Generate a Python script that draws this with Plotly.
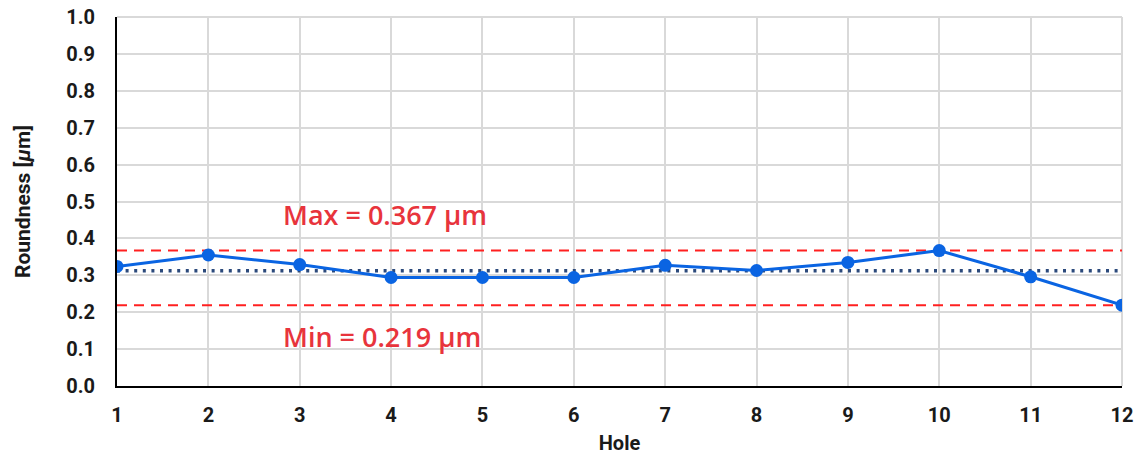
import plotly.graph_objects as go

holes = [1, 2, 3, 4, 5, 6, 7, 8, 9, 10, 11, 12]
roundness = [0.324, 0.355, 0.329, 0.294, 0.294, 0.294, 0.327, 0.313, 0.335, 0.367, 0.296, 0.219]
y_ticks = [0.0, 0.1, 0.2, 0.3, 0.4, 0.5, 0.6, 0.7, 0.8, 0.9, 1.0]

max_v = max(roundness)
min_v = min(roundness)
mean_v = sum(roundness) / len(roundness)
x_span = [holes[0], holes[-1]]

fig = go.Figure()
fig.add_trace(go.Scatter(x=x_span, y=[max_v, max_v], mode="lines",
                         line=dict(color="#ff2020", width=2, dash="10px,7px"),
                         hoverinfo="skip", showlegend=False))
fig.add_trace(go.Scatter(x=x_span, y=[min_v, min_v], mode="lines",
                         line=dict(color="#ff2020", width=2, dash="10px,7px"),
                         hoverinfo="skip", showlegend=False))
fig.add_trace(go.Scatter(x=x_span, y=[mean_v, mean_v], mode="lines",
                         line=dict(color="#2c4a7c", width=3.5, dash="3px,5.6px"),
                         hoverinfo="skip", showlegend=False))
fig.add_trace(go.Scatter(x=holes, y=roundness, mode="lines+markers",
                         line=dict(color="#0a64e2", width=3),
                         marker=dict(color="#0a64e2", size=13),
                         showlegend=False))

fig.add_annotation(x=2.79, y=0.466, xref="x", yref="y", xanchor="left", yanchor="middle",
                   text=f"Max = {max_v:.3f} µm", showarrow=False,
                   font=dict(family="Open Sans", size=27, color="#e8343c", weight=600))
fig.add_annotation(x=2.79, y=0.133, xref="x", yref="y", xanchor="left", yanchor="middle",
                   text=f"Min = {min_v:.3f} µm", showarrow=False,
                   font=dict(family="Open Sans", size=27, color="#e8343c", weight=600))

# grid lines at the plot edges (top and right)
fig.add_shape(type="line", xref="paper", yref="paper", x0=0, x1=1, y0=1, y1=1,
              line=dict(color="#d9d9d9", width=2), layer="below")
fig.add_shape(type="line", xref="paper", yref="paper", x0=1, x1=1, y0=0, y1=1,
              line=dict(color="#d9d9d9", width=2), layer="below")

tick_font = dict(family="Roboto", size=20, color="#1a1a1a", weight="bold")
title_font = dict(family="Roboto", size=20, color="#1a1a1a", weight="bold")
fig.update_layout(
    width=1139, height=455,
    margin=dict(l=117, r=17, t=17, b=69),
    paper_bgcolor="white", plot_bgcolor="white",
    xaxis=dict(range=x_span, tickmode="array", tickvals=holes,
               ticktext=[str(h) for h in holes],
               showgrid=True, gridcolor="#d9d9d9", gridwidth=2,
               showline=True, linecolor="black", linewidth=2, zeroline=False,
               tickfont=tick_font, ticklabelstandoff=10, automargin=False,
               title=dict(text="Hole", font=title_font, standoff=10)),
    yaxis=dict(range=[0, 1], tickmode="array", tickvals=y_ticks,
               ticktext=[f"{v:.1f}" for v in y_ticks],
               showgrid=True, gridcolor="#d9d9d9", gridwidth=2,
               showline=True, linecolor="black", linewidth=2, zeroline=False,
               tickfont=tick_font, ticklabelstandoff=16, automargin=False,
               title=dict(text="Roundness [<i>µ</i>m]",
                          font=dict(family="Roboto", size=21, color="#1a1a1a", weight="bold"),
                          standoff=30)),
)

fig.write_html("out.html", config={"displayModeBar": False},
               post_script="document.body.style.margin='0';document.body.style.overflow='hidden';")
